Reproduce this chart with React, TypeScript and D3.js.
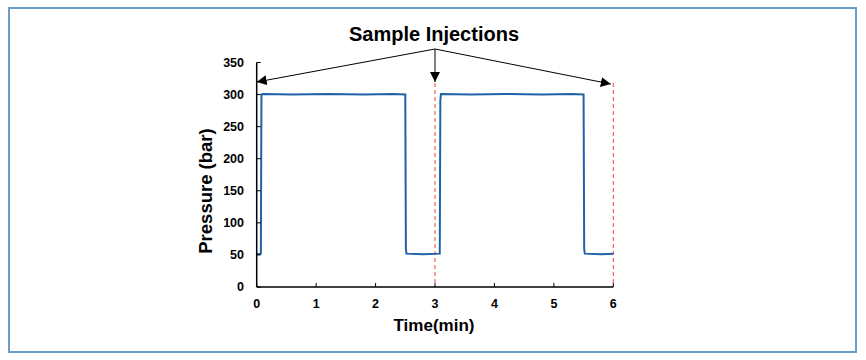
import React from "react";
import * as d3 from "d3";

const xTicks = [0, 1, 2, 3, 4, 5, 6];
const yTicks = [0, 50, 100, 150, 200, 250, 300, 350];
const timeMin = [0, 0.07, 0.08, 0.1, 0.6, 1.2, 1.8, 2.3, 2.5, 2.51, 2.52, 2.8, 3.08, 3.09, 3.1, 3.6, 4.2, 4.8, 5.3, 5.5, 5.51, 5.52, 5.8, 6.0];
const pressureBar = [51, 52, 300, 301, 300, 301, 300, 301, 300, 60, 52, 51, 52, 290, 301, 300, 301, 300, 301, 300, 60, 52, 51, 52];
const injectionTimes = [0, 3, 6];
const title = "Sample Injections";
const xLabel = "Time(min)";
const yLabel = "Pressure (bar)";

export default function App() {
  const W = 866, H = 360;
  const x = d3.scaleLinear().domain([0, 6]).range([256.7, 613.3]);
  const y = d3.scaleLinear().domain([0, 350]).range([287, 62.5]);
  const line = d3.line<number>().x((_, i) => x(timeMin[i])).y((d) => y(d)).curve(d3.curveLinear);
  const font = "'Liberation Sans', Arial, sans-serif";
  const apex = { x: x(3), y: 49 };
  const tipY = y(350) + 19.5;
  return (
    <svg width={W} height={H} style={{ position: "absolute", left: 0, top: 0 }} fontFamily={font}>
      <defs>
        <marker id="ah" viewBox="0 0 10 10" refX="10" refY="5" markerWidth="10" markerHeight="10" markerUnits="userSpaceOnUse" orient="auto">
          <path d="M0,0 L10,5 L0,10 z" fill="#000" />
        </marker>
      </defs>
      <rect x={0} y={0} width={W} height={H} fill="#fff" />
      <rect x={9} y={8} width={847} height={344} fill="#fff" stroke="#6b9dc9" strokeWidth={2} />
      <text x={434} y={41} textAnchor="middle" fontSize={20} fontWeight="bold">{title}</text>
      {/* dashed injection lines */}
      {injectionTimes.filter((t) => t > 0).map((t) => (
        <line key={t} x1={x(t)} x2={x(t)} y1={tipY + 1} y2={y(0)} stroke="#f0403a" strokeWidth={1} strokeDasharray="4,3" />
      ))}
      {/* arrows */}
      {injectionTimes.map((t, i) => (
        <line key={"a" + t} x1={apex.x} y1={apex.y} x2={x(t) + (i === 2 ? -2.5 : 0)} y2={tipY + (i === 2 ? 2 : 0)} stroke="#000" strokeWidth={1} markerEnd="url(#ah)" />
      ))}
      {/* data */}
      <path d={line(pressureBar) || ""} fill="none" stroke="#1f62a8" strokeWidth={2} />
      {/* axes */}
      <line x1={x(0)} x2={x(0)} y1={y(350)} y2={y(0)} stroke="#000" strokeWidth={1.5} />
      <line x1={x(0)} x2={x(6)} y1={y(0)} y2={y(0)} stroke="#000" strokeWidth={1.5} />
      {yTicks.map((t) => (
        <g key={"y" + t}>
          <line x1={x(0)} x2={x(0) + 4} y1={y(t)} y2={y(t)} stroke="#000" strokeWidth={1} />
          <text x={244} y={y(t)} dy="0.35em" textAnchor="end" fontSize={12.5} fontWeight="bold">{t}</text>
        </g>
      ))}
      {xTicks.map((t) => (
        <g key={"x" + t}>
          <line x1={x(t)} x2={x(t)} y1={y(0)} y2={y(0) - 4} stroke="#000" strokeWidth={1} />
          <text x={x(t)} y={308} textAnchor="middle" fontSize={12.5} fontWeight="bold">{t}</text>
        </g>
      ))}
      <text x={434} y={331} textAnchor="middle" fontSize={17} fontWeight="bold">{xLabel}</text>
      <text transform={`translate(211.5,191) rotate(-90)`} textAnchor="middle" fontSize={18.5} fontWeight="bold">{yLabel}</text>
    </svg>
  );
}
